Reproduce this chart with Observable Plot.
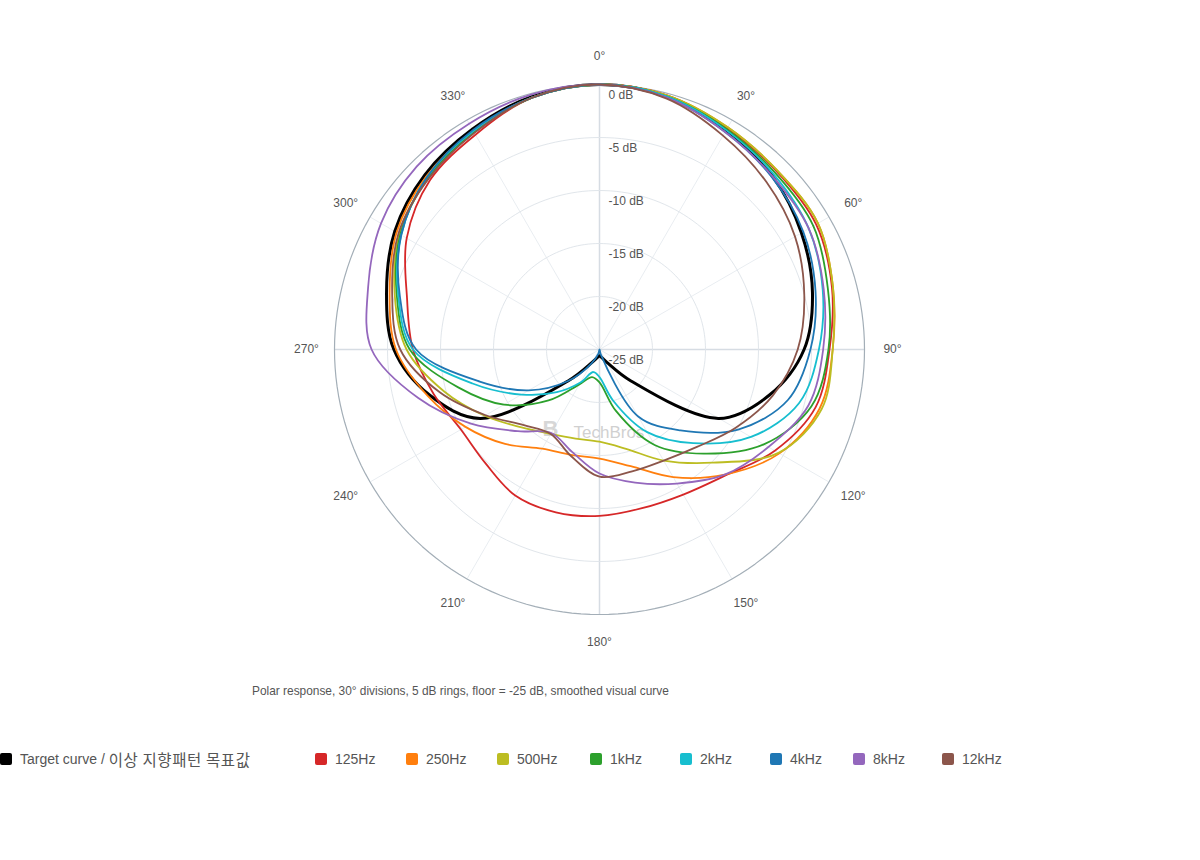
<!DOCTYPE html>
<html>
<head>
<meta charset="utf-8">
<script src="https://cdn.jsdelivr.net/npm/d3@7"></script>
<script src="https://cdn.jsdelivr.net/npm/@observablehq/plot@0.6"></script>
<style>
  html, body { margin: 0; padding: 0; background: #fff; }
  body { width: 1200px; height: 860px; position: relative; overflow: hidden;
         font-family: "Liberation Sans", Arial, "Noto Sans CJK KR", sans-serif; }
  #chart { position: absolute; left: 0; top: 0; }
  #caption { position: absolute; left: 252px; top: 684px; font-size: 11.9px; line-height: 14px; color: #555; white-space: nowrap; }
  #legend { position: absolute; left: 0; top: 750px; height: 20px; width: 1200px; font-size: 14px; color: #555; }
  .item { position: absolute; top: 0; display: flex; align-items: center; height: 18px; white-space: nowrap; line-height: 18px; }
  .sw { width: 12px; height: 12px; border-radius: 2px; margin-right: 8px; flex: none; }
  .ko { font-family: "Noto Sans CJK KR", sans-serif; font-size: 15.5px; letter-spacing: 0.6px; line-height: 18px; vertical-align: top; }
</style>
</head>
<body>
<div id="chart"></div>
<div id="caption">Polar response, 30° divisions, 5 dB rings, floor = -25 dB, smoothed visual curve</div>
<div id="legend"></div>
<script>
// ---- data (dB at each angle, clockwise from front) ----
const angles = [0,15,30,45,60,75,90,105,120,135,150,165,180,195,210,225,240,255,270,285,300,315,330,345];
const targetCurve = [0,-0.3,-1.1,-1.9,-3.0,-4.2,-5.7,-8.4,-12.0,-20.8,-23.6,-24.2,-24.4,-24.2,-23.6,-20.8,-12.0,-8.4,-5.6,-4.2,-2.7,-1.7,-1.0,-0.3];
const hz125 = [0,-0.2,-0.9,-1.3,-1.4,-2.3,-3.3,-3.9,-5.9,-8.2,-9.2,-9.5,-9.3,-9.1,-9.1,-9.8,-9.9,-8.8,-7.4,-6.2,-4.0,-2.4,-1.6,-0.4];
const hz250 = [0,-0.2,-0.8,-1.2,-1.2,-2.2,-3.0,-3.5,-5.4,-8.3,-11.1,-13.6,-14.7,-14.7,-14.2,-12.4,-10.4,-8.2,-5.8,-4.5,-2.9,-1.9,-1.2,-0.4];
const hz500 = [0,-0.2,-0.8,-1.2,-1.2,-2.2,-3.0,-3.3,-5.5,-9.9,-12.9,-15.3,-16.3,-16.3,-15.8,-14.6,-12.5,-9.8,-6.8,-5.0,-3.2,-2.1,-1.35,-0.4];
const khz1 = [0,-0.3,-1.0,-1.5,-1.7,-2.7,-3.4,-4.3,-7.1,-11.1,-14.6,-19.0,-21.9,-22.3,-21.2,-18.2,-14.6,-11.2,-7.1,-5.2,-3.3,-2.1,-1.3,-0.4];
const khz2 = [0,-0.3,-1.1,-1.7,-2.2,-3.2,-4.3,-5.5,-8.5,-12.5,-16.0,-20.0,-22.4,-22.8,-21.4,-19.3,-16.5,-12.6,-7.4,-5.35,-3.4,-2.0,-1.2,-0.4];
const khz4 = [0,-0.4,-1.3,-2.0,-2.8,-3.9,-5.1,-6.6,-9.9,-14.2,-17.7,-24.5,-25,-24.6,-23.5,-20.8,-17.3,-13.3,-7.7,-5.5,-3.4,-2.0,-1.1,-0.4];
const khz8 = [0,-0.4,-1.3,-1.9,-2.2,-3.1,-3.9,-4.6,-6.6,-8.3,-10.4,-12.0,-13.3,-15.0,-15.9,-14.1,-11.0,-7.3,-3.5,-2.4,-1.2,-0.6,-0.4,-0.1];
const khz12 = [0,-0.5,-1.7,-2.7,-3.7,-5.0,-6.3,-8.1,-10.2,-12.0,-12.9,-13.1,-13.0,-14.6,-15.8,-14.9,-12.6,-9.4,-6.2,-4.75,-3.1,-2.2,-1.4,-0.4];

const seriesNames = ["Target curve / 이상 지향패턴 목표값","125Hz","250Hz","500Hz","1kHz","2kHz","4kHz","8kHz","12kHz"];
const seriesValues = [targetCurve, hz125, hz250, hz500, khz1, khz2, khz4, khz8, khz12];
const seriesColors = ["#000000","#d62728","#ff7f0e","#bcbd22","#2ca02c","#17becf","#1f77b4","#9467bd","#8c564b"];

const angleTicks = [0,30,60,90,120,150,180,210,240,270,300,330];
const dbRings = [0,-5,-10,-15,-20,-25];
const FLOOR = -25;

// ---- helpers ----
const rad = a => a * Math.PI / 180;
const rOf = db => Math.max(db, FLOOR) - FLOOR;
const polar = (a, r) => ({x: r * Math.sin(rad(a)), y: r * Math.cos(rad(a))});

const curveRows = seriesValues.map(vals => angles.map((a, i) => polar(a, rOf(vals[i]))));

const ringRows = dbRings.filter(d => d > FLOOR).map(d =>
  d3.range(0, 361, 2).map(a => ({...polar(a, rOf(d)), ring: d})));

const spokeRows = angleTicks.map(a => ({a, x2: polar(a, rOf(0)).x, y2: polar(a, rOf(0)).y}));
const labelRows = angleTicks.map(a => ({...polar(a, rOf(0) * 293 / 265), label: a + "°"}));
const dbLabelRows = dbRings.map(d => ({x: 0, y: rOf(d), label: d + " dB"}));

const marks = [];
// spokes
marks.push(Plot.link(spokeRows.filter(d => d.a % 90 !== 0), {x1: 0, y1: 0, x2: "x2", y2: "y2", stroke: "#e9edf1", strokeWidth: 1}));
marks.push(Plot.link(spokeRows.filter(d => d.a % 90 === 0), {x1: 0, y1: 0, x2: "x2", y2: "y2", stroke: "#d6dce3", strokeWidth: 1.5}));
// rings
ringRows.forEach(rows => {
  const outer = rows[0].ring === 0;
  marks.push(Plot.line(rows, {x: "x", y: "y", stroke: outer ? "#a3aeb7" : "#e1e6eb", strokeWidth: outer ? 1.2 : 1}));
});
// watermark
marks.push(Plot.text(["TechBros"], {frameAnchor: "middle", dx: -26, dy: 83, textAnchor: "start", fontSize: 17, letterSpacing: 1.6, fill: "#c4c4c4", fillOpacity: 0.8}));
marks.push(Plot.text(["B"], {frameAnchor: "middle", dx: -57, dy: 79, textAnchor: "start", fontSize: 22, fontWeight: "bold", fill: "#cdcdcd", fillOpacity: 0.8}));
// curves
curveRows.forEach((rows, i) => {
  marks.push(Plot.line(rows, {x: "x", y: "y", stroke: seriesColors[i], strokeWidth: i === 0 ? 3 : 1.8, curve: "catmull-rom-closed", strokeLinejoin: "round"}));
});
// labels
marks.push(Plot.text(dbLabelRows, {x: "x", y: "y", text: "label", dx: 9, dy: 11, textAnchor: "start", fill: "#555", fontSize: 12}));
marks.push(Plot.text(labelRows, {x: "x", y: "y", text: "label", fill: "#555", fontSize: 12}));

const chart = Plot.plot({
  width: 1200,
  height: 660,
  marginLeft: 334,
  marginRight: 336,
  marginTop: 84,
  marginBottom: 46,
  x: {domain: [-25, 25], axis: null},
  y: {domain: [-25, 25], axis: null},
  style: {fontFamily: "'Liberation Sans', Arial, sans-serif", fontSize: "12px", background: "white", overflow: "visible"},
  marks
});
document.getElementById("chart").appendChild(chart);

// legend
const legendLeft = [0, 315, 406, 497, 590, 680, 770, 853, 942];
const legend = document.getElementById("legend");
seriesNames.forEach((name, i) => {
  const item = document.createElement("div");
  item.className = "item";
  item.style.left = legendLeft[i] + "px";
  const sw = document.createElement("span");
  sw.className = "sw";
  sw.style.background = seriesColors[i];
  item.appendChild(sw);
  const label = document.createElement("span");
  const slash = name.indexOf(" / ");
  if (slash >= 0) {
    label.appendChild(document.createTextNode(name.slice(0, slash + 3)));
    const ko = document.createElement("span");
    ko.className = "ko";
    ko.textContent = name.slice(slash + 3);
    label.appendChild(ko);
  } else {
    label.textContent = name;
  }
  item.appendChild(label);
  legend.appendChild(item);
});
</script>
</body>
</html>
